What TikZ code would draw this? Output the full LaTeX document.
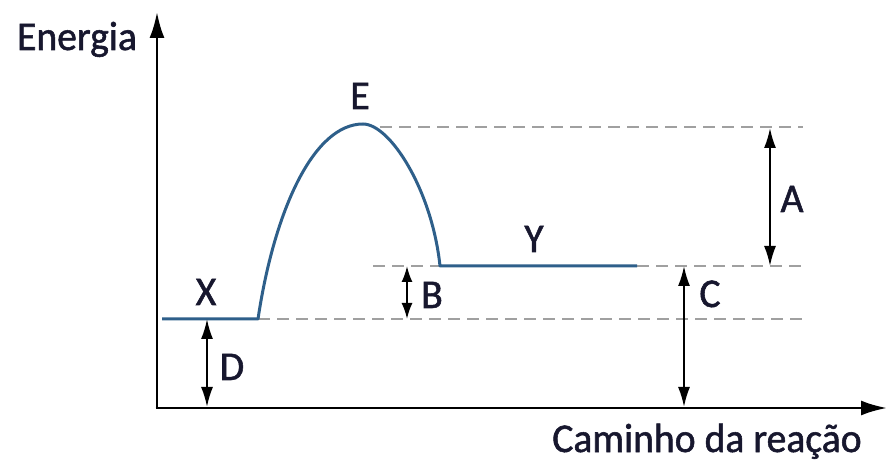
\documentclass[tikz,border=0pt]{standalone}
\usepackage{fontspec}
\setmainfont{Carlito}[FakeStretch=0.97,FakeBold=1.3]
\usetikzlibrary{arrows.meta}
\definecolor{curveblue}{HTML}{2E5F8A}
\definecolor{dashgray}{HTML}{A0A0A0}
\definecolor{txt}{HTML}{17172E}
\begin{document}
\begin{tikzpicture}[x=1bp,y=-1bp,
  lbl/.style={anchor=base,inner sep=0pt,text=txt,font=\fontsize{41}{48}\selectfont},
  axis/.style={line width=2.6bp,-{Latex[length=26bp,width=15bp]}},
  guide/.style={dashgray,line width=2bp,dash pattern=on 12bp off 7bp},
  dim/.style={line width=2bp,{Latex[length=20bp,width=12bp]}-{Latex[length=20bp,width=12bp]}},
  profile/.style={curveblue,line width=3bp,line join=round}]
\useasboundingbox (0,0) rectangle (889,462);
% axes
\coordinate (O) at (157,408);
\coordinate (ytop) at (157,12);
\coordinate (xend) at (887,408);
\draw[axis] (O) -- (ytop);
\draw[axis] ([xshift=-1.3bp]O) -- (xend);
% levels
\coordinate (x0) at (162,319);
\coordinate (x1) at (258,319);
\coordinate (peak) at (363,124);
\coordinate (y0) at (440,266);
\coordinate (y1) at (637,266);
% guides
\draw[guide] (380,127) -- (803,127);
\draw[guide] (373,266) -- (y0);
\draw[guide] (y1) -- (803,266);
\draw[guide] (x1) -- (803,319);
% profile
\draw[profile] (x0) -- (x1) .. controls (274,212) and (313,124) .. (peak)
  .. controls (390,124) and (432,190) .. (y0) -- (y1);
% dimension arrows
\coordinate (a1) at (770,128); \coordinate (a2) at (770,266);
\coordinate (b1) at (407,266); \coordinate (b2) at (407,319);
\coordinate (c1) at (684,266); \coordinate (c2) at (684,407);
\coordinate (d1) at (207,319); \coordinate (d2) at (207,407);
\draw[dim] (a1) -- (a2);
\draw[dim,{Latex[length=16bp,width=11bp]}-{Latex[length=16bp,width=11bp]}] (b1) -- (b2);
\draw[dim] (c1) -- (c2);
\draw[dim] (d1) -- (d2);
% labels
\node[lbl] (energia) at (77,50) {Energia};
\node[lbl] (caminho) at (707,452) {Caminho da reação};
\node[lbl] (E) at (360,109) {E};
\node[lbl] (X) at (206,305) {X};
\node[lbl] (Y) at (534,252) {Y};
\node[lbl] (A) at (792,212) {A};
\node[lbl] (B) at (432,308) {B};
\node[lbl] (C) at (710,307) {C};
\node[lbl] (D) at (232,380) {D};
\end{tikzpicture}
\end{document}
